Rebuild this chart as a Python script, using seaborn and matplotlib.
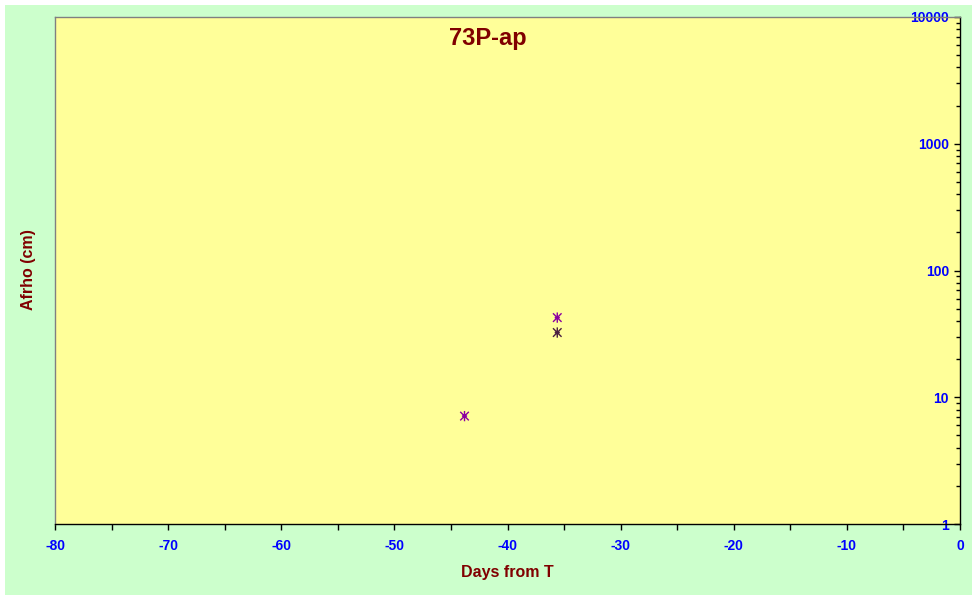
import matplotlib
matplotlib.use("Agg")
import matplotlib.pyplot as plt
from matplotlib.path import Path
from matplotlib.patches import Rectangle
from matplotlib.ticker import FixedLocator, NullFormatter, LogLocator
import seaborn as sns
import pandas as pd

# data
days = [-43.8, -35.6, -35.6]
afrho = [7.1, 42.5, 32.4]
observer = ["A", "A", "B"]
xticks = [-80, -70, -60, -50, -40, -30, -20, -10, 0]
yticks = [1, 10, 100, 1000, 10000]
ytick_labels = ["1", "10", "100", "1000", "10000"]

df = pd.DataFrame({"days": days, "afrho": afrho, "obs": observer})

sns.set_style("white")
plt.rcParams['font.family'] = ['Liberation Sans', 'DejaVu Sans']

fig = plt.figure(figsize=(9.77, 6.0), dpi=100)
fig.patch.set_facecolor("white")
fig.patches.append(Rectangle((5/977, 5/600), 967/977, 590/600, transform=fig.transFigure,
                             facecolor="#ccffcc", edgecolor="none", zorder=-10))

W, H = 977, 600
l, r, t, b = 55, 960, 17, 524
ax = fig.add_axes([l/W, 1 - b/H, (r-l)/W, (b-t)/H])
ax.set_facecolor("#ffff99")

star = Path([(-1, -1), (1, 1), (-1, 1), (1, -1), (0, -1.2), (0, 1.2), (-0.6, 0), (0.6, 0)],
            [Path.MOVETO, Path.LINETO, Path.MOVETO, Path.LINETO, Path.MOVETO, Path.LINETO,
             Path.MOVETO, Path.LINETO])

sns.scatterplot(data=df, x="days", y="afrho", hue="obs",
                palette={"A": "#8a00a0", "B": "#4a2040"},
                marker=star, s=55, linewidth=1.0, legend=False, ax=ax)
for coll in ax.collections:
    coll.set_edgecolor(coll.get_facecolor())

ax.set_xscale("linear")
ax.set_yscale("log")
ax.set_xlim(-80, 0)
ax.set_ylim(1, 10000)

# spines
for s in ["left", "top"]:
    ax.spines[s].set_color("#808080")
    ax.spines[s].set_linewidth(1)
for s in ["right", "bottom"]:
    ax.spines[s].set_color("black")
    ax.spines[s].set_linewidth(1)

# x ticks
ax.xaxis.set_major_locator(FixedLocator(xticks))
ax.xaxis.set_minor_locator(FixedLocator([v + 5 for v in xticks[:-1]]))
ax.set_xticklabels([str(v) for v in xticks])
ax.tick_params(axis="x", which="both", direction="out", length=4, width=1, color="black",
               bottom=True, labelsize=10, labelcolor="#0000ff", pad=7)
for lab in ax.get_xticklabels():
    lab.set_fontweight("bold")

# y ticks on right, inside, labels inside left of ticks
ax.yaxis.tick_right()
ax.yaxis.set_major_locator(FixedLocator(yticks))
ax.yaxis.set_minor_locator(LogLocator(base=10, subs=range(2, 10)))
ax.yaxis.set_minor_formatter(NullFormatter())
ax.set_yticklabels(ytick_labels)
ax.tick_params(axis="y", which="major", direction="in", length=4, width=1, color="black",
               right=True, left=False, labelright=True, labelleft=False,
               labelsize=10, labelcolor="#0000ff", pad=-8)
ax.tick_params(axis="y", which="minor", direction="in", length=3, width=1, color="black",
               right=True, left=False)
for lab in ax.get_yticklabels():
    lab.set_fontweight("bold")
    lab.set_horizontalalignment("right")

ax.set_xlabel("")
ax.set_ylabel("")

fig.text(488/W, 1 - 38/H, "73P-ap", ha="center", va="center", fontsize=17,
         fontweight="bold", color="#800000")
fig.text(28/W, 1 - 270/H, "Afrho (cm)", ha="center", va="center", rotation=90,
         fontsize=11.5, fontweight="bold", color="#800000")
fig.text(507/W, 1 - 572/H, "Days from T", ha="center", va="center",
         fontsize=11.5, fontweight="bold", color="#800000")

fig.savefig("out.png", dpi=100, facecolor=fig.get_facecolor())
